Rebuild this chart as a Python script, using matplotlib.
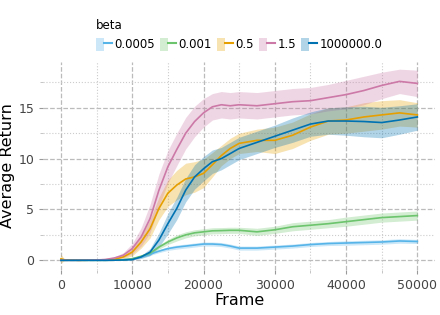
import matplotlib
matplotlib.use('Agg')
import matplotlib.pyplot as plt
from matplotlib.patches import Patch
from matplotlib.lines import Line2D
from matplotlib.legend_handler import HandlerTuple
from matplotlib.ticker import MultipleLocator
import numpy as np

frames = [0, 500, 2500, 5000, 6250, 7500, 8750, 10000, 11250, 12500, 13750, 15000,
          16250, 17500, 18750, 20000, 21250, 22500, 23750, 25000, 27500, 30000,
          32500, 35000, 37500, 40000, 42500, 45000, 47500, 50000]

betas = ['0.0005', '0.001', '0.5', '1.5', '1000000.0']
colors = ['#56B4E9', '#6CC46C', '#E69F00', '#CC79A7', '#0072B2']

mean_0005 = [0, 0, 0, 0, 0, 0.01, 0.05, 0.15, 0.33, 0.6, 0.9, 1.15, 1.3, 1.4, 1.5,
             1.6, 1.6, 1.55, 1.4, 1.2, 1.2, 1.3, 1.4, 1.55, 1.65, 1.7, 1.75, 1.8, 1.9, 1.85]
sd_0005 = [0, 0, 0, 0, 0, 0.01, 0.02, 0.05, 0.1, 0.12, 0.15, 0.18, 0.2, 0.2, 0.2,
           0.2, 0.2, 0.2, 0.2, 0.2, 0.2, 0.2, 0.2, 0.2, 0.2, 0.22, 0.22, 0.22, 0.22, 0.2]

mean_001 = [0, 0, 0, 0, 0, 0.01, 0.05, 0.15, 0.4, 0.7, 1.3, 1.8, 2.2, 2.5, 2.7,
            2.8, 2.9, 2.92, 2.95, 2.95, 2.8, 3.0, 3.3, 3.45, 3.6, 3.8, 4.0, 4.2, 4.3, 4.4]
sd_001 = [0, 0, 0, 0, 0, 0.01, 0.02, 0.05, 0.1, 0.15, 0.2, 0.25, 0.3, 0.3, 0.3,
          0.3, 0.3, 0.3, 0.3, 0.3, 0.35, 0.35, 0.4, 0.4, 0.4, 0.45, 0.45, 0.45, 0.45, 0.45]

mean_05 = [0.15, 0.05, 0, 0.02, 0.05, 0.1, 0.33, 0.8, 1.8, 3.1, 5.1, 6.6, 7.4, 8.0, 8.2,
           8.55, 9.4, 10.3, 11.0, 11.5, 11.8, 11.8, 12.3, 13.1, 13.7, 13.8, 14.1, 14.3, 14.5, 14.3]
sd_05 = [0.45, 0.05, 0, 0.02, 0.03, 0.08, 0.2, 0.35, 0.6, 0.9, 1.1, 1.3, 1.45, 1.55, 1.5,
         1.4, 1.2, 1.0, 1.0, 1.0, 1.1, 1.3, 1.3, 1.3, 1.3, 1.3, 1.4, 1.4, 1.3, 1.2]

mean_15 = [0, 0, 0, 0.03, 0.08, 0.23, 0.5, 1.15, 2.3, 4.1, 6.9, 9.2, 10.9, 12.5, 13.65,
           14.5, 15.1, 15.3, 15.2, 15.3, 15.2, 15.4, 15.6, 15.7, 16.0, 16.3, 16.7, 17.2, 17.6, 17.4]
sd_15 = [0, 0, 0, 0.03, 0.05, 0.1, 0.25, 0.5, 0.9, 1.4, 1.6, 1.6, 1.6, 1.55, 1.5,
         1.4, 1.3, 1.3, 1.3, 1.3, 1.3, 1.3, 1.3, 1.3, 1.3, 1.4, 1.4, 1.3, 1.2, 1.3]

mean_1e6 = [0, 0, 0, 0, 0, 0.01, 0.03, 0.07, 0.33, 0.8, 2.0, 3.6, 5.1, 6.9, 8.2,
            9.0, 9.7, 10.0, 10.5, 11.0, 11.6, 12.2, 12.8, 13.4, 13.7, 13.7, 13.65, 13.55, 13.8, 14.1]
sd_1e6 = [0, 0, 0, 0, 0, 0.01, 0.02, 0.05, 0.15, 0.35, 0.7, 1.0, 1.1, 1.15, 1.2,
          1.2, 1.15, 1.1, 1.1, 1.1, 1.1, 1.1, 1.2, 1.2, 1.3, 1.4, 1.5, 1.5, 1.4, 1.3]

means = [mean_0005, mean_001, mean_05, mean_15, mean_1e6]
sds = [sd_0005, sd_001, sd_05, sd_15, sd_1e6]

fig = plt.figure(figsize=(4.4, 3.15), dpi=100)
ax = fig.add_axes([0.098, 0.143, 0.891, 0.66])

x = np.array(frames)
handles = []
for lab, c, m, s in zip(betas, colors, means, sds):
    m = np.array(m)
    s = np.array(s)
    ax.fill_between(x, m - s, m + s, color=c, alpha=0.3, linewidth=0)
    ax.plot(x, m, color=c, linewidth=1.2)
    handles.append((Patch(facecolor=c, alpha=0.3, edgecolor='none'),
                    Line2D([], [], color=c, linewidth=1.5)))

ax.set_xlim(-2500, 52500)
ax.set_ylim(-0.95, 19.5)
ax.xaxis.set_major_locator(MultipleLocator(10000))
ax.xaxis.set_minor_locator(MultipleLocator(5000))
ax.yaxis.set_major_locator(MultipleLocator(5))
ax.yaxis.set_minor_locator(MultipleLocator(2.5))
ax.grid(which='major', linestyle='--', color='#bbbbbb', linewidth=0.9)
ax.grid(which='minor', linestyle=':', color='#cccccc', linewidth=0.8)
ax.set_axisbelow(True)
for sp in ax.spines.values():
    sp.set_visible(False)
ax.tick_params(which='major', length=3, color='#999999', labelsize=9, labelcolor='#444444')
ax.tick_params(which='minor', length=2, color='#bbbbbb')

ax.set_xlabel('Frame', fontsize=11.5, labelpad=1)
ax.set_ylabel('Average Return', fontsize=11.5, labelpad=2)

leg = ax.legend(handles, betas, handler_map={tuple: HandlerTuple(ndivide=None, pad=0)},
                title='beta', ncol=5, loc='lower center', bbox_to_anchor=(0.5, 1.0),
                frameon=False, fontsize=8.5, title_fontsize=8.5, handlelength=1.35,
                handleheight=1.4, handletextpad=0.2, columnspacing=0.45,
                alignment='left', borderaxespad=0.5)

fig.savefig('out.png', dpi=100)
